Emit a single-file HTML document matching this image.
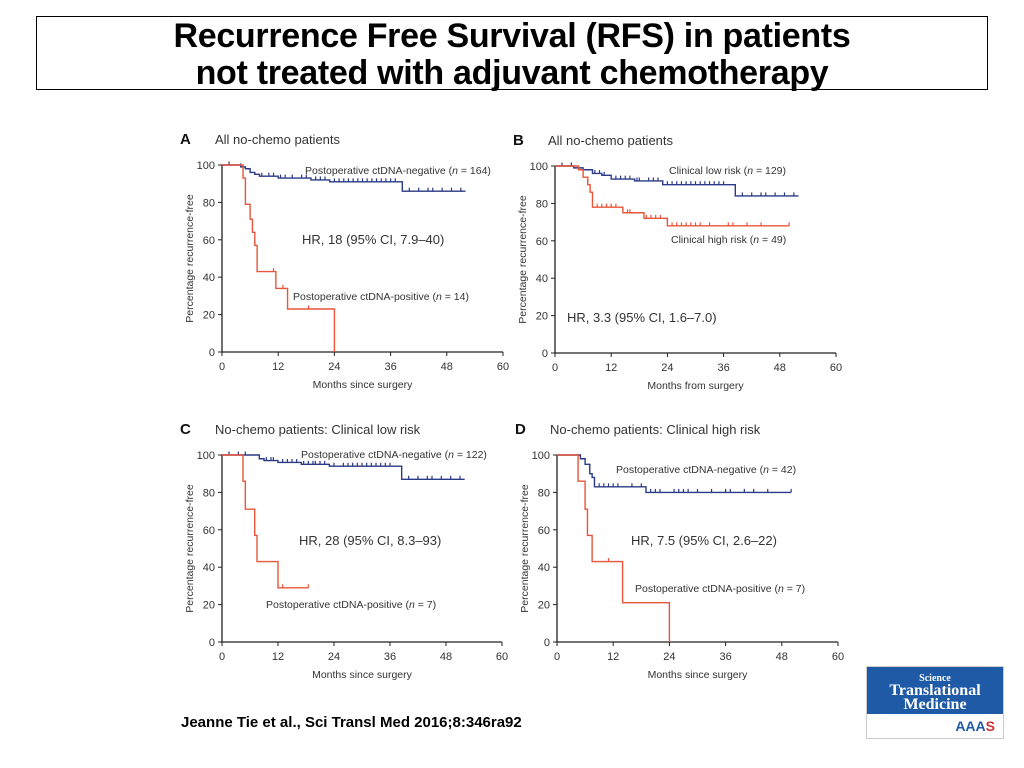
<!DOCTYPE html>
<html><head><meta charset="utf-8"><title>RFS no-chemo patients</title>
<style>
html,body{margin:0;padding:0;background:#fff;}
body{width:1024px;height:768px;position:relative;overflow:hidden;font-family:"Liberation Sans",sans-serif;}
#title-box{position:absolute;left:36px;top:16px;width:952px;height:74px;border:1px solid #000;box-sizing:border-box;text-align:center;font-weight:bold;font-size:34px;line-height:37px;padding-top:1px;color:#000;letter-spacing:-0.3px;}
#cite{position:absolute;left:181px;top:714px;font-weight:bold;font-size:15px;color:#000;}
#logo{position:absolute;left:866px;top:666px;width:138px;height:73px;border:1px solid #ccc;box-sizing:border-box;}
#logo .top{background:#1f5aa6;height:47px;color:#fff;font-family:"Liberation Serif",serif;font-weight:bold;text-align:center;line-height:14px;font-size:16px;padding-top:3px;box-sizing:border-box;overflow:hidden;}
#logo .bot{height:24px;text-align:right;padding-right:8px;font-size:14px;color:#1f5aa6;line-height:24px;font-weight:bold;}
svg{position:absolute;left:0;top:0;}
</style></head><body>
<div id="title-box">Recurrence Free Survival (RFS) in patients<br>not treated with adjuvant chemotherapy</div>
<div id="cite">Jeanne Tie et al., Sci Transl Med 2016;8:346ra92</div>
<div id="logo"><div class="top"><span style="font-size:10px;line-height:10px">Science</span><br>Translational<br>Medicine</div><div class="bot">AAA<span style="color:#c33">S</span></div></div>
<svg id="chart" width="1024" height="768"></svg>
<script>
const xTicks=[0,12,24,36,48,60];
const yTicks=[0,20,40,60,80,100];
// Panel A
const aNegT=[0,4,5,6,7,8,12,19,23,38.5], aNegS=[100,99,98,96,95,94,93,92,91,86], aNegEnd=52;
const aNegC=[1.5,4,8.5,10,11,12.5,13.5,15,17,18,20,21,22,24,25,26,27,28,29,30,31,32,33,34,35,36,37,40,42,44,45,47,49,51];
const aPosT=[0,4.5,5,6,6.5,7,7.5,11.5,14,24], aPosS=[100,93,79,71,64,57,43,34,23,0], aPosEnd=24;
const aPosC=[11,13,18.5];
// Panel B
const bLowT=[0,4,6,8,10,12,17,23,38.5], bLowS=[100,99,98,96,95,93,92,90,84], bLowEnd=52;
const bLowC=[1.5,3.5,8.5,9.5,10.5,13,14,15,16,17.5,18,20,21,22,24,25,26,27,28,29,30,31,32,33,34,35,36,40,42,44,45,47,49,51];
const bHighT=[0,5,6,7,7.5,8,14.5,19,24];
const bHighVals=[100,98,94,90,86,78,75,72,68], bHighEnd=50;
const bHighC=[9,10,11,12,13,15.5,16,19.5,20.5,21.5,22.5,25,26,27,28,29,30,31,33,37,38,41,44,50];
// Panel C
const cNegT=[0,8,9,12,17,23,38.5], cNegS=[100,98,97,96,95,94,87], cNegEnd=52;
const cNegC=[1.5,3.5,5,9.5,10.5,11,13,14,15,16,17.5,18.5,19.5,20,21,22,24,26,27,28,29,30,31,32,33,34,35,36,40,42,44,45,47,49,51];
const cPosT=[0,4.5,5,7,7.5,12], cPosS=[100,86,71,57,43,29], cPosEnd=18.5;
const cPosC=[13,18.5];
// Panel D
const dNegT=[0,5,6,7,7.5,8,19], dNegS=[100,98,95,90,88,83,80], dNegEnd=50;
const dNegC=[9,10,11,12,13,16,18,20,21,22,25,26,27,28,30,33,36,37,40,42,45,50];
const dPosT=[0,4.5,6,6.5,7.5,14,24], dPosS=[100,86,71,57,43,21,0], dPosEnd=24;
const dPosC=[11];

const NS='http://www.w3.org/2000/svg';
const svg=document.getElementById('chart');
const BLUE='#2a3a86', RED='#e8553a', INK='#333';
function mk(tag,attrs,parent){const e=document.createElementNS(NS,tag);for(const k in attrs)e.setAttribute(k,attrs[k]);(parent||svg).appendChild(e);return e;}
function txt(x,y,s,size,anchor,parent,extra){const t=mk('text',Object.assign({x:x,y:y,'font-size':size,'text-anchor':anchor||'start',fill:INK,'font-family':'Liberation Sans, sans-serif'},extra||{}),parent);t.textContent=s;return t;}

function panel(p){
  const g=mk('g',{});
  
  
  const X=v=>p.x0+(v/60)*(p.x1-p.x0), Y=v=>p.y0-(v/100)*(p.y0-p.y1);
  const lt=txt(p.x0-42,p.y1-21,p.id,15,'start',g,{'font-weight':'bold',fill:'#111'});
  
  const pt=txt(p.x0-7,p.y1-21,p.title,13,'start',g);
  
  const ax=mk('path',{d:`M${p.x0},${p.y1}V${p.y0}H${p.x1}`,stroke:'#222','stroke-width':1.3,fill:'none'},g);
  
  xTicks.forEach(v=>{mk('line',{x1:X(v),x2:X(v),y1:p.y0,y2:p.y0+4,stroke:'#222'},g);
    const t=txt(X(v),p.y0+18,String(v),11,'middle',g);});
  yTicks.forEach(v=>{mk('line',{x1:p.x0-4,x2:p.x0,y1:Y(v),y2:Y(v),stroke:'#222'},g);
    const t=txt(p.x0-7,Y(v)+4,String(v),11,'end',g);});
  const xt=txt((p.x0+p.x1)/2,p.y0+36,p.xlabel,10.5,'middle',g);
  
  const cy=(p.y0+p.y1)/2, cx=p.x0-33;
  const yt=txt(cx,cy+4,'Percentage recurrence-free',10.5,'middle',g,{transform:`rotate(-90 ${cx} ${cy})`});
  
  p.series.forEach(s=>{
    let d=`M${X(s.t[0])},${Y(s.s[0])}`;
    for(let i=1;i<s.t.length;i++){d+=`H${X(s.t[i])}V${Y(s.s[i])}`;}
    d+=`H${X(s.end)}`;
    const path=mk('path',{d:d,stroke:s.c,'stroke-width':1.4,fill:'none'},g);
    
    s.cens.forEach(ct=>{let v=s.s[0];for(let i=0;i<s.t.length;i++){if(s.t[i]<=ct)v=s.s[i];}
      const m=mk('line',{x1:X(ct),x2:X(ct),y1:Y(v)-3.5,y2:Y(v),stroke:s.c,'stroke-width':1.2},g);
      });
  });
  p.labels.forEach(l=>{const t=mk('text',{x:l.x,y:l.y,'font-size':l.size||10.5,fill:INK,'font-family':'Liberation Sans, sans-serif'},g);
    
    if(l.n!==undefined){t.appendChild(document.createTextNode(l.s+' ('));const it=mk('tspan',{'font-style':'italic'},t);it.textContent='n';t.appendChild(document.createTextNode(' = '+l.n+')'));}
    else t.textContent=l.s;});
}
panel({id:'A',title:'All no-chemo patients',xlabel:'Months since surgery',x0:222,x1:503,y0:352,y1:165,
  series:[{name:'ctdna-negative',c:BLUE,t:aNegT,s:aNegS,end:aNegEnd,cens:aNegC},{name:'ctdna-positive',c:RED,t:aPosT,s:aPosS,end:aPosEnd,cens:aPosC}],
  labels:[{x:305,y:174,s:'Postoperative ctDNA-negative',n:164,name:'legend-negative'},{x:302,y:244,s:'HR, 18 (95% CI, 7.9–40)',size:13,name:'hazard-ratio'},{x:293,y:300,s:'Postoperative ctDNA-positive',n:14,name:'legend-positive'}]});
panel({id:'B',title:'All no-chemo patients',xlabel:'Months from surgery',x0:555,x1:836,y0:353,y1:166,
  series:[{name:'clinical-low-risk',c:BLUE,t:bLowT,s:bLowS,end:bLowEnd,cens:bLowC},{name:'clinical-high-risk',c:RED,t:bHighT,s:bHighVals,end:bHighEnd,cens:bHighC}],
  labels:[{x:669,y:174,s:'Clinical low risk',n:129,name:'legend-low-risk'},{x:671,y:243,s:'Clinical high risk',n:49,name:'legend-high-risk'},{x:567,y:322,s:'HR, 3.3 (95% CI, 1.6–7.0)',size:13,name:'hazard-ratio'}]});
panel({id:'C',title:'No-chemo patients: Clinical low risk',xlabel:'Months since surgery',x0:222,x1:502,y0:642,y1:455,
  series:[{name:'ctdna-negative',c:BLUE,t:cNegT,s:cNegS,end:cNegEnd,cens:cNegC},{name:'ctdna-positive',c:RED,t:cPosT,s:cPosS,end:cPosEnd,cens:cPosC}],
  labels:[{x:301,y:458,s:'Postoperative ctDNA-negative',n:122,name:'legend-negative'},{x:299,y:545,s:'HR, 28 (95% CI, 8.3–93)',size:13,name:'hazard-ratio'},{x:266,y:608,s:'Postoperative ctDNA-positive',n:7,name:'legend-positive'}]});
panel({id:'D',title:'No-chemo patients: Clinical high risk',xlabel:'Months since surgery',x0:557,x1:838,y0:642,y1:455,
  series:[{name:'ctdna-negative',c:BLUE,t:dNegT,s:dNegS,end:dNegEnd,cens:dNegC},{name:'ctdna-positive',c:RED,t:dPosT,s:dPosS,end:dPosEnd,cens:dPosC}],
  labels:[{x:616,y:473,s:'Postoperative ctDNA-negative',n:42,name:'legend-negative'},{x:631,y:545,s:'HR, 7.5 (95% CI, 2.6–22)',size:13,name:'hazard-ratio'},{x:635,y:592,s:'Postoperative ctDNA-positive',n:7,name:'legend-positive'}]});
</script>
</body></html>
